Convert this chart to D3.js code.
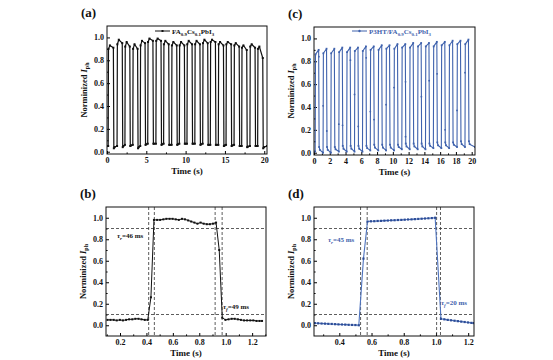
<!DOCTYPE html>
<html>
<head>
<meta charset="utf-8">
<script src="https://cdn.jsdelivr.net/npm/d3@7"></script>
<style>
  body { margin: 0; background: #fff; }
  svg { display: block; }
  text { font-family: "Liberation Serif", "Times New Roman", serif; font-weight: bold; }
</style>
</head>
<body>
<svg id="chart"></svg>
<script>
const width = 553;
const height = 360;
const blue = "#3f62ad";

// ---- (a) FA0.9Cs0.1PbI3, 20 on/off cycles ----
const riseA = [0.15, 1.28, 2.28, 3.28, 4.23, 5.18, 6.22, 7.2, 8.22, 9.2, 10.17, 11.17, 12.17, 13.14, 14.16, 15.14, 16.16, 17.13, 18.18, 19.16];
const fallA = [0.84, 1.97, 2.93, 3.92, 4.87, 5.87, 6.9, 7.88, 8.9, 9.87, 10.85, 11.85, 12.84, 13.82, 14.84, 15.82, 16.84, 17.8, 18.86, 19.84];
const hiStartA = [0.90, 0.94, 0.92, 0.90, 0.93, 0.96, 0.97, 0.94, 0.93, 0.93, 0.94, 0.94, 0.95, 0.96, 0.94, 0.94, 0.93, 0.91, 0.92, 0.90];
const hiPeakA = [0.93, 0.98, 0.96, 0.94, 0.97, 0.99, 0.99, 0.97, 0.96, 0.96, 0.97, 0.97, 0.98, 0.98, 0.96, 0.96, 0.95, 0.93, 0.94, 0.92];
const hiEndA = [0.91, 0.95, 0.92, 0.90, 0.95, 0.97, 0.97, 0.94, 0.93, 0.93, 0.94, 0.94, 0.95, 0.96, 0.93, 0.94, 0.92, 0.89, 0.91, 0.82];
const loStartA = [0.03, 0.04, 0.05, 0.03, 0.06, 0.07, 0.06, 0.06, 0.06, 0.07, 0.07, 0.06, 0.06, 0.06, 0.05, 0.05, 0.05, 0.04, 0.05, 0.03];
const loEndA = [0.05, 0.05, 0.06, 0.06, 0.05, 0.07, 0.07, 0.07, 0.06, 0.07, 0.07, 0.07, 0.07, 0.06, 0.06, 0.06, 0.06, 0.05, 0.05, 0.05];

// ---- (c) P3HT/FA0.9Cs0.1PbI3, 20 on/off cycles ----
const riseC = [0.15, 1.15, 2.14, 3.15, 4.15, 5.14, 6.15, 7.14, 8.15, 9.14, 10.15, 11.14, 12.14, 13.15, 14.14, 15.14, 16.15, 17.14, 18.14, 19.15];
const fallC = [0.62, 1.62, 2.61, 3.62, 4.62, 5.61, 6.62, 7.61, 8.62, 9.61, 10.62, 11.61, 12.61, 13.62, 14.61, 15.61, 16.62, 17.61, 18.61, 19.62];
const hiStartC = [0.86, 0.87, 0.87, 0.88, 0.88, 0.89, 0.89, 0.90, 0.90, 0.91, 0.91, 0.92, 0.92, 0.93, 0.93, 0.93, 0.94, 0.94, 0.95, 0.95];
const hiEndC = [0.90, 0.91, 0.91, 0.92, 0.92, 0.92, 0.93, 0.93, 0.94, 0.94, 0.95, 0.95, 0.96, 0.96, 0.96, 0.97, 0.97, 0.98, 0.98, 0.99];
const loStartC = [0.05, 0.05, 0.05, 0.06, 0.06, 0.06, 0.06, 0.07, 0.07, 0.07, 0.07, 0.08, 0.08, 0.08, 0.08, 0.09, 0.09, 0.09, 0.10, 0.10];
const loEndC = [0.01, 0.00, 0.00, 0.01, 0.01, 0.01, 0.01, 0.02, 0.02, 0.02, 0.02, 0.03, 0.03, 0.03, 0.03, 0.04, 0.04, 0.04, 0.05, 0.05];
// stray samples caught during transitions
const edgeDotsC = [[0.62, 0.84], [1.15, 0.41], [1.62, 0.19], [3.15, 0.25], [3.62, 0.24], [4.62, 0.81], [5.14, 0.51], [5.61, 0.23], [6.62, 0.83], [7.14, 0.36], [7.61, 0.29], [9.14, 0.42], [10.15, 0.57], [11.61, 0.62], [11.61, 0.14], [13.62, 0.49], [14.61, 0.63], [15.61, 0.69], [16.62, 0.2], [18.14, 0.37], [19.15, 0.7]];

// ---- (b) single cycle, FA0.9Cs0.1PbI3 ----
const timeB = [0.105, 0.128, 0.152, 0.175, 0.199, 0.222, 0.246, 0.269, 0.293, 0.316, 0.340, 0.363, 0.387, 0.410,
  0.434, 0.457,
  0.481, 0.504, 0.528, 0.551, 0.575, 0.598, 0.622, 0.645, 0.669, 0.692, 0.716, 0.739, 0.763, 0.786, 0.810, 0.833, 0.857, 0.880, 0.904, 0.927,
  0.951, 0.974,
  0.998, 1.021, 1.045, 1.068, 1.092, 1.115, 1.139, 1.162, 1.186, 1.209, 1.233, 1.256, 1.275];
const valueB = [0.05, 0.05, 0.05, 0.045, 0.05, 0.045, 0.05, 0.055, 0.055, 0.06, 0.06, 0.055, 0.05, 0.05,
  0.26, 0.98,
  0.98, 0.98, 0.985, 0.99, 0.99, 0.99, 0.985, 0.98, 0.99, 0.985, 0.975, 0.965, 0.955, 0.945, 0.955, 0.945, 0.94, 0.94, 0.945, 0.955,
  0.70, 0.07,
  0.05, 0.055, 0.06, 0.06, 0.055, 0.05, 0.045, 0.045, 0.045, 0.045, 0.04, 0.04, 0.04];
const guideXB = [0.417, 0.46, 0.92, 0.973];

// ---- (d) single cycle, P3HT/FA0.9Cs0.1PbI3 ----
const timeD = [0.248, 0.269, 0.290, 0.311, 0.332, 0.353, 0.374, 0.395, 0.416, 0.437, 0.458, 0.479, 0.500, 0.521,
  0.550, 0.575,
  0.596, 0.617, 0.638, 0.659, 0.680, 0.701, 0.722, 0.743, 0.764, 0.785, 0.806, 0.827, 0.848, 0.869, 0.890, 0.911, 0.932, 0.953, 0.974, 0.995,
  1.031, 1.052, 1.073, 1.094, 1.115, 1.136, 1.157, 1.178, 1.199, 1.220, 1.235];
const valueD = [0.02, 0.018, 0.016, 0.015, 0.013, 0.012, 0.01, 0.008, 0.007, 0.006, 0.004, 0.003, 0.002, 0.0,
  0.62, 0.965,
  0.967, 0.968, 0.97, 0.971, 0.973, 0.974, 0.976, 0.977, 0.979, 0.98, 0.982, 0.984, 0.985, 0.987, 0.989, 0.991, 0.993, 0.995, 0.997, 1.0,
  0.06, 0.055, 0.05, 0.046, 0.042, 0.038, 0.034, 0.03, 0.026, 0.022, 0.02];
const guideXD = [0.532, 0.573, 1.004, 1.028];
const guideY = [0.9, 0.1];

const yTicks = [0, 0.2, 0.4, 0.6, 0.8, 1.0];
const yMinor = [0.1, 0.3, 0.5, 0.7, 0.9];

const svg = d3.select("#chart")
  .attr("width", width)
  .attr("height", height)
  .attr("viewBox", `0 0 ${width} ${height}`);

svg.append("rect").attr("width", width).attr("height", height).attr("fill", "#fff");

// Build the stepped traces for the long runs
function cycleTrace(rise, fall, hiStart, hiPeak, hiEnd, loStart, loEnd, tEnd) {
  const pts = [[0, loEnd[0]]];
  rise.forEach((r, k) => {
    pts.push([r, loEnd[k]]);
    pts.push([r + 0.04, hiStart[k]]);
    if (hiPeak) pts.push([r + 0.22, hiPeak[k]]);
    pts.push([fall[k] - 0.03, hiEnd[k]]);
    pts.push([fall[k] + 0.03, loStart[k]]);
    pts.push([fall[k] + 0.12, (loStart[k] + (loEnd[k + 1] ?? loEnd[k])) / 2]);
  });
  pts.push([tEnd, loEnd[loEnd.length - 1]]);
  return pts;
}

function panel(cfg) {
  const g = svg.append("g");
  const x = d3.scaleLinear().domain(cfg.xd).range([cfg.l, cfg.r]);
  const y = d3.scaleLinear().domain(cfg.yd).range([cfg.b, cfg.t]);

  const clipId = "clip" + cfg.id;
  g.append("clipPath").attr("id", clipId)
    .append("rect").attr("x", cfg.l).attr("y", cfg.t).attr("width", cfg.r - cfg.l).attr("height", cfg.b - cfg.t);

  // minor ticks
  g.append("g").attr("transform", `translate(0,${cfg.b})`)
    .call(d3.axisBottom(x).tickValues(cfg.xMinor).tickSizeInner(-1.6).tickSizeOuter(0).tickFormat(""))
    .call(a => a.select(".domain").remove());
  g.append("g").attr("transform", `translate(${cfg.l},0)`)
    .call(d3.axisLeft(y).tickValues(yMinor).tickSizeInner(-1.6).tickSizeOuter(0).tickFormat(""))
    .call(a => a.select(".domain").remove());

  // major ticks + labels
  const xa = g.append("g").attr("transform", `translate(0,${cfg.b})`)
    .call(d3.axisBottom(x).tickValues(cfg.xTicks).tickSizeInner(-3).tickSizeOuter(0).tickPadding(3).tickFormat(cfg.xFmt));
  const ya = g.append("g").attr("transform", `translate(${cfg.l},0)`)
    .call(d3.axisLeft(y).tickValues(yTicks).tickSizeInner(-3).tickSizeOuter(0).tickPadding(3).tickFormat(d3.format(".1f")));
  [xa, ya].forEach(a => {
    a.select(".domain").remove();
    a.attr("font-family", null).attr("font-size", null);
    a.selectAll("text").attr("font-size", 8).attr("fill", "#111");
  });

  const plot = g.append("g").attr("clip-path", `url(#${clipId})`);

  // dashed guides
  (cfg.guideX || []).forEach(v => {
    plot.append("line").attr("x1", x(v)).attr("x2", x(v)).attr("y1", cfg.t).attr("y2", cfg.b)
      .attr("stroke", "#333").attr("stroke-width", 0.8).attr("stroke-dasharray", "3,2");
  });
  (cfg.guideY || []).forEach(v => {
    plot.append("line").attr("x1", cfg.l).attr("x2", cfg.r).attr("y1", y(v)).attr("y2", y(v))
      .attr("stroke", "#333").attr("stroke-width", 0.8).attr("stroke-dasharray", "3,2");
  });

  const line = d3.line().x(d => x(d[0])).y(d => y(d[1]));
  plot.append("path").datum(cfg.pts)
    .attr("d", line).attr("fill", "none")
    .attr("stroke", cfg.color).attr("stroke-width", cfg.lw || 1.1).attr("stroke-linejoin", "round");

  plot.selectAll("rect.mk").data(cfg.markers || cfg.pts).enter().append("rect")
    .attr("class", "mk")
    .attr("x", d => x(d[0]) - cfg.ms / 2).attr("y", d => y(d[1]) - cfg.ms / 2)
    .attr("width", cfg.ms).attr("height", cfg.ms).attr("fill", cfg.mcolor || cfg.color);

  (cfg.dots || []).forEach(d => {
    plot.append("circle").attr("cx", x(d[0])).attr("cy", y(d[1])).attr("r", 0.9).attr("fill", cfg.color);
  });

  // frame
  g.append("rect").attr("x", cfg.l).attr("y", cfg.t).attr("width", cfg.r - cfg.l).attr("height", cfg.b - cfg.t)
    .attr("fill", "none").attr("stroke", "#111").attr("stroke-width", 1);

  // axis titles
  g.append("text").attr("x", (cfg.l + cfg.r) / 2).attr("y", cfg.b + 20)
    .attr("text-anchor", "middle").attr("font-size", 9).attr("fill", "#111").text("Time (s)");
  const yt = g.append("text")
    .attr("transform", `translate(${cfg.l - 20},${(cfg.t + cfg.b) / 2}) rotate(-90)`)
    .attr("text-anchor", "middle").attr("font-size", 8.5).attr("fill", "#111");
  yt.append("tspan").text("Norminized ");
  yt.append("tspan").attr("font-style", "italic").text("I");
  yt.append("tspan").attr("font-size", 6).attr("dy", 2).text("ph");

  // panel label
  g.append("text").attr("x", cfg.l - 26).attr("y", cfg.t - 9)
    .attr("font-size", 13).attr("fill", "#111").text(cfg.label);

  return { g, x, y };
}

function subText(g, xPos, yPos, parts, size, color) {
  const t = g.append("text").attr("x", xPos).attr("y", yPos).attr("font-size", size).attr("fill", color);
  let shift = 0;
  parts.forEach(p => {
    const s = t.append("tspan").text(p.text);
    const want = p.sub ? 2 : 0;
    if (want !== shift) { s.attr("dy", want - shift); shift = want; }
    if (p.sub) s.attr("font-size", size * 0.7);
    if (p.italic) s.attr("font-style", "italic");
  });
  return t;
}

// (a)
const ptsA = cycleTrace(riseA, fallA, hiStartA, hiPeakA, hiEndA, loStartA, loEndA, 20.35);
const pa = panel({
  id: "a", label: "(a)", l: 107, r: 267, t: 26, b: 154,
  xd: [0, 20.35], yd: [-0.02, 1.1],
  xTicks: [0, 5, 10, 15, 20], xMinor: [2.5, 7.5, 12.5, 17.5], xFmt: d3.format("d"),
  pts: ptsA, color: "#111", ms: 2, lw: 1.2
});
pa.g.append("line").attr("x1", 155).attr("x2", 170).attr("y1", 31).attr("y2", 31).attr("stroke", "#111").attr("stroke-width", 1);
pa.g.append("rect").attr("x", 161.5).attr("y", 30).attr("width", 2).attr("height", 2).attr("fill", "#111");
subText(pa.g, 172, 33.5, [{ text: "FA" }, { text: "0.9", sub: true }, { text: "Cs" }, { text: "0.1", sub: true }, { text: "PbI" }, { text: "3", sub: true }], 7, "#111");

// (c)
const ptsC = cycleTrace(riseC, fallC, hiStartC, null, hiEndC, loStartC, loEndC, 20.42);
const pc = panel({
  id: "c", label: "(c)", l: 314, r: 475, t: 27, b: 155,
  xd: [0, 20.42], yd: [-0.02, 1.1],
  xTicks: d3.range(0, 21, 2), xMinor: [1, 3, 5, 7, 9, 11, 13, 15, 17, 19], xFmt: d3.format("d"),
  pts: ptsC, color: blue, ms: 1.8, lw: 1.1, dots: edgeDotsC
});
pc.g.append("line").attr("x1", 352).attr("x2", 367).attr("y1", 31).attr("y2", 31).attr("stroke", blue).attr("stroke-width", 1);
pc.g.append("circle").attr("cx", 359.5).attr("cy", 31).attr("r", 1.2).attr("fill", blue);
subText(pc.g, 369, 33.5, [{ text: "P3HT/FA" }, { text: "0.9", sub: true }, { text: "Cs" }, { text: "0.1", sub: true }, { text: "PbI" }, { text: "3", sub: true }], 7, blue);

// (b)
const ptsB = timeB.map((t, i) => [t, valueB[i]]);
const pb = panel({
  id: "b", label: "(b)", l: 106, r: 266, t: 207, b: 336,
  xd: [0.094, 1.305], yd: [-0.1, 1.1],
  xTicks: [0.2, 0.4, 0.6, 0.8, 1.0, 1.2], xMinor: [0.1, 0.3, 0.5, 0.7, 0.9, 1.1, 1.3], xFmt: d3.format(".1f"),
  pts: ptsB, color: "#111", ms: 2, lw: 1, guideX: guideXB, guideY: guideY
});
subText(pb.g, 117, 238, [{ text: "τ", italic: true }, { text: "r", sub: true, italic: true }, { text: "=46 ms" }], 7, "#111");
subText(pb.g, 223, 309, [{ text: "τ", italic: true }, { text: "f", sub: true, italic: true }, { text: "=49 ms" }], 7, "#111");

// (d)
const ptsD = timeD.map((t, i) => [t, valueD[i]]);
const pd = panel({
  id: "d", label: "(d)", l: 314, r: 474, t: 207, b: 336,
  xd: [0.243, 1.236], yd: [-0.1, 1.1],
  xTicks: [0.4, 0.6, 0.8, 1.0, 1.2], xMinor: [0.3, 0.5, 0.7, 0.9, 1.1], xFmt: d3.format(".1f"),
  pts: ptsD, color: "#4f74bf", mcolor: "#2c4c96", ms: 2.2, lw: 1.1, guideX: guideXD, guideY: guideY
});
subText(pd.g, 328, 242, [{ text: "τ", italic: true }, { text: "r", sub: true, italic: true }, { text: "=45 ms" }], 7, blue);
subText(pd.g, 441, 305, [{ text: "τ", italic: true }, { text: "f", sub: true, italic: true }, { text: "=20 ms" }], 7, blue);
</script>
</body>
</html>
